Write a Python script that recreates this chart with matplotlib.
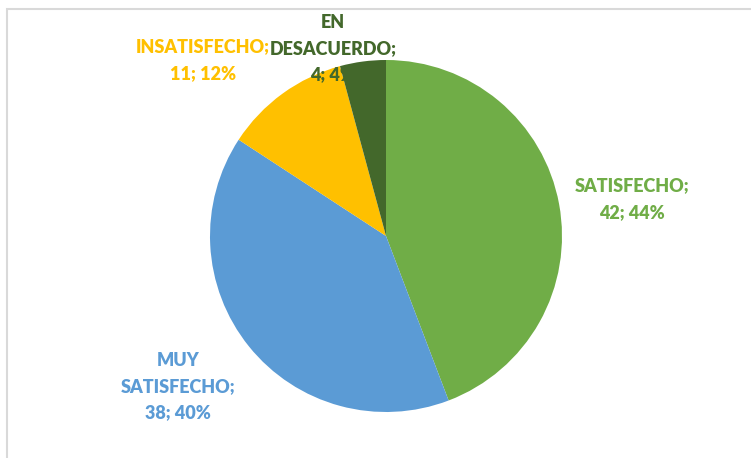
"""Pie chart: nivel de satisfaccion"""

import matplotlib.pyplot as plt
from matplotlib.patches import Rectangle

categories = ['SATISFECHO', 'MUY SATISFECHO', 'INSATISFECHO', 'EN DESACUERDO']
values = [42, 38, 11, 4]
colors = ['#70AD47', '#5B9BD5', '#FFC000', '#43682B']
label_lines = [
    ['SATISFECHO;'],
    ['MUY', 'SATISFECHO;'],
    ['INSATISFECHO;'],
    ['EN', 'DESACUERDO;'],
]


def main():
    """Main fonction"""
    plt.rcParams['font.family'] = ['Lato', 'DejaVu Sans']
    fig = plt.figure(figsize=(7.51, 4.58), dpi=100)
    ax = fig.add_axes([0, 0, 1, 1])

    # chart border (cut off at right and bottom)
    ax.add_patch(Rectangle((7, -10), 800, 458 - 9 + 10, fill=False,
                           edgecolor='#D9D9D9', linewidth=1.5))

    cx, cy, r = 386, 458 - 236, 176
    ax.pie(values, colors=colors, startangle=90, counterclock=False,
           center=(cx, cy), radius=r, frame=True,
           wedgeprops={'linewidth': 0})
    ax.set_xlim(0, 751)
    ax.set_ylim(0, 458)
    ax.set_aspect('equal')
    ax.axis('off')

    total = sum(values)
    # label anchor (x, y of first line) in pixel coords
    anchors = [(632, 186), (178, 360), (203, 47), (333, 22)]
    for lines, v, c, (x, y) in zip(label_lines, values, colors, anchors):
        txt = lines + ['{}; {:.0f}%'.format(v, 100 * v / total)]
        for i, t in enumerate(txt):
            ax.text(x, 458 - (y + 26.5 * i), t, color=c, fontsize=13,
                    fontweight='heavy', ha='center', va='center')

    plt.savefig('out.png', dpi=100)


if __name__ == "__main__":
    main()
